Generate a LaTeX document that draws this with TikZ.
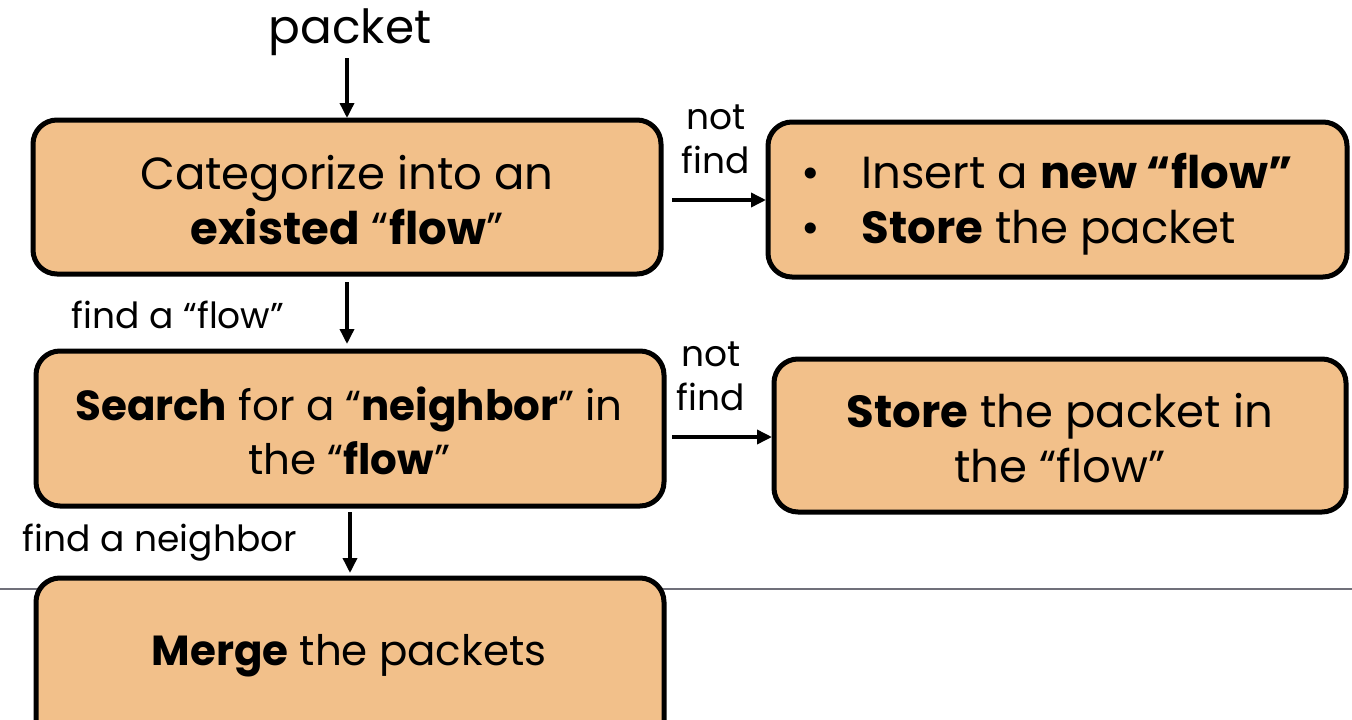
\documentclass[tikz,border=0pt]{standalone}
\usepackage{fontspec}
\setmainfont{Poppins}
\usetikzlibrary{arrows.meta}
\definecolor{boxfill}{HTML}{F2C08A}
\definecolor{rulegray}{HTML}{70707A}
\tikzset{
  flowbox/.style={draw=black, line width=5pt, fill=boxfill, rounded corners=24pt, inner sep=0pt},
  boxtext/.style={font=\fontsize{45}{55}\selectfont, align=center},
  boxtextsmall/.style={font=\fontsize{42}{54}\selectfont, align=center},
  edgelabel/.style={font=\fontsize{36}{44}\selectfont, align=center},
  flowarrow/.style={line width=3.5pt, -{Triangle[length=15pt,width=14pt]}}
}
\begin{document}
\begin{tikzpicture}[x=1pt,y=-1pt]
  \useasboundingbox (0,0) rectangle (1352,720);
  % separator rule behind the last box
  \draw[rulegray, line width=1.2pt] (0,589) -- (1352,589);

  % boxes
  \draw[flowbox] (33,120) rectangle (661,274);
  \draw[flowbox] (768,122) rectangle (1347,277);
  \draw[flowbox] (36,351) rectangle (664,506);
  \draw[flowbox] (774,359) rectangle (1346,512);
  \draw[flowbox] (36,578) rectangle (664,760);

  % box anchors
  \coordinate (b1t) at (347,118);
  \coordinate (b1b) at (347,282);
  \coordinate (b1r) at (672,200);
  \coordinate (b2l) at (766,200);
  \coordinate (b3t) at (347,344);
  \coordinate (b3b) at (350,512);
  \coordinate (b3r) at (672,437);
  \coordinate (b4l) at (772,437);
  \coordinate (b5t) at (350,573);

  % texts
  \node[boxtext] (cat) at (347,200) {Categorize into an\\\textbf{existed} “\textbf{flow}”};
  \node[boxtext, align=left, anchor=west] (ins) at (798,204)
    {\makebox[60pt][l]{•}Insert a \textbf{new “flow”}\\\makebox[60pt][l]{•}\textbf{Store} the packet};
  \node[boxtextsmall] (srch) at (349,431) {\textbf{Search} for a “\textbf{neighbor}” in\\the “\textbf{flow}”};
  \node[boxtext] (store) at (1060,438) {\textbf{Store} the packet in\\the “flow”};
  \node[boxtextsmall] (merge) at (349,656) {\textbf{Merge} the packets};

  \node[font=\fontsize{47}{55}\selectfont] (pkt) at (350,32) {packet};
  \coordinate (pktb) at (347,58);

  % connectors
  \draw[flowarrow] (pktb) -- (b1t);
  \draw[flowarrow] (b1b) -- (b3t);
  \draw[flowarrow] (b3b) -- (b5t);
  \draw[flowarrow] (b1r) -- (b2l);
  \draw[flowarrow] (b3r) -- (b4l);

  % connector labels
  \node[edgelabel] (nf1) at (716,139) {not\\find};
  \node[edgelabel] (nf2) at (711,376) {not\\find};
  \node[edgelabel] (ff) at (178,315) {find a “flow”};
  \node[edgelabel] (fn) at (160,543) {find a neighbor};
\end{tikzpicture}
\end{document}
